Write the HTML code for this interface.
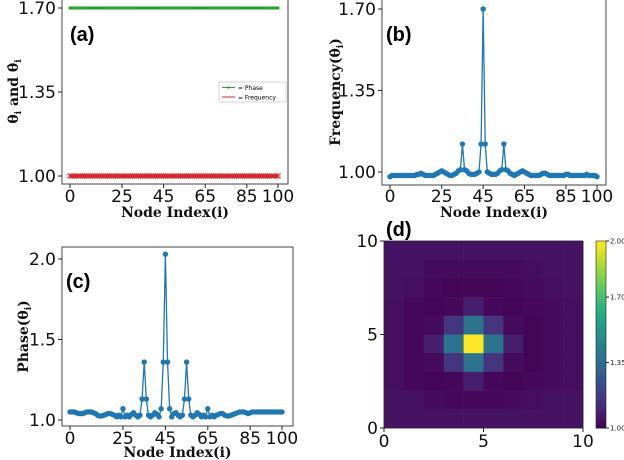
<!DOCTYPE html>
<html><head><meta charset="utf-8"><style>
body{margin:0;background:#fff;width:624px;height:460px;overflow:hidden}
svg{display:block}
.tk{font-family:"DejaVu Sans","Liberation Sans",sans-serif;font-size:17px;fill:#111}
.al{font-family:"DejaVu Serif","Liberation Serif",serif;font-weight:bold;font-size:14px;fill:#111}
.pl{font-family:"Liberation Sans",sans-serif;font-weight:bold;font-size:20px;fill:#000}
</style></head><body>
<svg id="fig" width="624" height="460" viewBox="0 0 624 460" xmlns="http://www.w3.org/2000/svg"></svg>
<script>
const nodeTicks=[0,25,45,65,85,100];
const aYTicks=[1.00,1.35,1.70];
const bYTicks=[1.00,1.35,1.70];
const cYTicks=[1.0,1.5,2.0];
const phaseConst=1.70;
const freqConst=1.00;
const freqValues=[0.98,0.985,0.985,0.985,0.985,0.985,0.985,0.985,0.985,0.985,
0.985,0.985,0.985,0.99,0.99,0.995,0.99,0.985,0.985,0.985,
0.985,0.985,0.99,0.995,1.0,1.005,1.0,0.995,0.99,0.985,
0.985,0.99,0.995,1.005,1.01,1.12,1.01,1.005,0.995,0.99,
0.99,0.99,0.995,1.0,1.12,1.70,1.12,1.0,0.995,0.99,
0.99,0.99,0.995,1.005,1.01,1.12,1.01,1.005,0.995,0.99,
0.985,0.99,0.995,1.0,1.005,1.0,0.995,0.99,0.985,0.985,
0.985,0.985,0.985,0.99,0.995,0.995,0.99,0.985,0.985,0.985,
0.985,0.985,0.985,0.985,0.985,0.99,0.99,0.985,0.985,0.985,
0.985,0.985,0.985,0.985,0.985,0.99,0.985,0.985,0.985,0.985,0.98];
const phaseValues=[1.05,1.05,1.05,1.045,1.04,1.04,1.04,1.045,1.05,1.05,
1.05,1.045,1.04,1.03,1.025,1.025,1.03,1.035,1.04,1.04,
1.035,1.03,1.02,1.03,1.02,1.07,1.02,1.03,1.02,1.035,
1.045,1.03,1.02,1.03,1.13,1.36,1.13,1.03,1.02,1.03,
1.045,1.035,1.02,1.07,1.36,2.03,1.36,1.07,1.02,1.04,
1.045,1.03,1.02,1.03,1.13,1.36,1.13,1.03,1.02,1.03,
1.045,1.035,1.02,1.03,1.02,1.07,1.02,1.03,1.02,1.03,
1.035,1.04,1.04,1.03,1.025,1.025,1.03,1.035,1.04,1.045,
1.05,1.05,1.05,1.045,1.04,1.045,1.05,1.05,1.05,1.05,
1.05,1.05,1.05,1.05,1.05,1.05,1.05,1.05,1.05,1.05,1.05];
const heatRows=[ // top row (y=9) to bottom (y=0)
[1.05,1.05,1.05,1.05,1.05,1.05,1.05,1.05,1.05,1.05],
[1.05,1.05,1.03,1.03,1.03,1.03,1.03,1.04,1.05,1.05],
[1.05,1.04,1.02,1.01,1.01,1.01,1.02,1.03,1.04,1.05],
[1.04,1.02,1.01,1.02,1.08,1.02,1.01,1.02,1.03,1.04],
[1.04,1.02,1.03,1.15,1.38,1.15,1.03,1.01,1.03,1.04],
[1.04,1.02,1.08,1.38,2.0,1.38,1.08,1.01,1.03,1.04],
[1.04,1.02,1.03,1.15,1.38,1.15,1.03,1.01,1.03,1.04],
[1.04,1.02,1.01,1.02,1.08,1.02,1.01,1.02,1.03,1.04],
[1.05,1.05,1.03,1.02,1.02,1.02,1.03,1.04,1.05,1.05],
[1.05,1.05,1.05,1.05,1.05,1.05,1.05,1.05,1.05,1.05]];
const heatTicks=[0,5,10];
const cbTicks=[1.00,1.35,1.70,2.00];

const NS="http://www.w3.org/2000/svg";
const svg=document.getElementById('fig');
function mk(tag,attrs,parent){const e=document.createElementNS(NS,tag);for(const k in attrs)e.setAttribute(k,attrs[k]);(parent||svg).appendChild(e);return e;}
function lin(d0,d1,r0,r1){return v=>r0+(v-d0)*(r1-r0)/(d1-d0);}
const VIR=[[68,1,84],[72,40,120],[62,74,137],[49,104,142],[38,130,142],[31,158,137],[53,183,121],[109,205,89],[180,222,44],[253,231,37]];
function viridis(t){t=Math.max(0,Math.min(1,t))*(VIR.length-1);const i=Math.min(Math.floor(t),VIR.length-2),f=t-i;const c=VIR[i].map((v,k)=>Math.round(v+(VIR[i+1][k]-v)*f));return `rgb(${c})`;}

function axesFrame(name,x0,y0,x1,y1,xs,ys,yTicks,yFmt,xTickY,xlabY,ylab,ylabX){
  const g=mk('g',{});
  
  
  const r=mk('rect',{x:x0,y:y0,width:x1-x0,height:y1-y0,fill:'none',stroke:'#444','stroke-width':1},g);
  
  
  nodeTicks.forEach(t=>{
    mk('line',{x1:xs(t),x2:xs(t),y1:y1,y2:y1+4,stroke:'#222'},g);
    const tx=mk('text',{x:xs(t),y:xTickY,'text-anchor':'middle',class:'tk'},g);tx.textContent=t;
    
    
  });
  yTicks.forEach(t=>{
    mk('line',{x1:x0-4,x2:x0,y1:ys(t),y2:ys(t),stroke:'#222'},g);
    const tx=mk('text',{x:x0-6,y:ys(t)+6,'text-anchor':'end',class:'tk'},g);tx.textContent=yFmt(t);
    
    
  });
  const xl=mk('text',{x:(x0+x1)/2,y:xlabY,'text-anchor':'middle',class:'al'},g);xl.textContent='Node Index(i)';
  
  
  const yc=(y0+y1)/2;
  const yl=mk('text',{x:ylabX,y:yc,'text-anchor':'middle',class:'al',transform:`rotate(-90 ${ylabX} ${yc})`},g);yl.innerHTML=ylab;
  
  
  return g;
}
function series(g,name,vals,xs,ys,color,marker){
  const pts=vals.map((v,i)=>[xs(i),ys(v)]);
  const p=mk('polyline',{points:pts.map(q=>q.join(',')).join(' '),fill:'none',stroke:color,'stroke-width':1.3},g);
  
  
  pts.forEach(q=>{
    let m;
    if(marker==='x'){m=mk('path',{d:`M${q[0]-2.5},${q[1]-2.5}L${q[0]+2.5},${q[1]+2.5}M${q[0]-2.5},${q[1]+2.5}L${q[0]+2.5},${q[1]-2.5}`,stroke:color,'stroke-width':1.2},g);}
    else m=mk('circle',{cx:q[0],cy:q[1],r:marker==='s'?1.6:2.7,fill:color},g);
    
    
  });
}
function label(txt,x,y){const t=mk('text',{x:x,y:y,class:'pl'});t.textContent=txt;
  
  }

// Panel a
{const xs=lin(0,100,70,278),ys=lin(1.0,1.7,176,8);
const g=axesFrame('panel-a',62,-1,288,184,xs,ys,aYTicks,v=>v.toFixed(2),202,217,'θ<tspan font-size="9" dy="3">i</tspan><tspan dy="-3"> and θ̇</tspan><tspan font-size="9" dy="3">i</tspan>',18);
series(g,'phase',nodeTicks.length?phaseValues.map(()=>phaseConst):[],xs,ys,'#2ca02c','s');
series(g,'frequency',freqValues.map(()=>freqConst),xs,ys,'#d62728','x');
const lg=mk('g',{},g);


mk('rect',{x:219,y:82,width:67,height:20,fill:'#fff',stroke:'#ccc','stroke-width':0.8},lg);
mk('line',{x1:222,x2:235,y1:87.5,y2:87.5,stroke:'#2ca02c'},lg);mk('circle',{cx:228.5,cy:87.5,r:1.2,fill:'#2ca02c'},lg);
mk('line',{x1:222,x2:235,y1:97,y2:97,stroke:'#d62728'},lg);
const t1=mk('text',{x:238,y:90,'font-size':6,'font-family':'DejaVu Sans,sans-serif'},lg);t1.textContent='= Phase';
const t2=mk('text',{x:238,y:99.5,'font-size':6,'font-family':'DejaVu Sans,sans-serif'},lg);t2.textContent='= Frequency';
label('(a)',70,41);}
// Panel b
{const xs=lin(0,100,390,597),ys=lin(1.0,1.7,172,9);
const g=axesFrame('panel-b',382,-1,606,185,xs,ys,bYTicks,v=>v.toFixed(2),202,217,'Frequency(θ̇<tspan font-size="9" dy="3">i</tspan><tspan dy="-3">)</tspan>',340);
series(g,'frequency',freqValues,xs,ys,'#1f77b4','o');
label('(b)',386,41);}
// Panel c
{const xs=lin(0,100,70,282),ys=lin(1.0,2.0,420,259);
const g=axesFrame('panel-c',62,247,293,426,xs,ys,cYTicks,v=>v.toFixed(1),444,457,'Phase(θ<tspan font-size="9" dy="3">i</tspan><tspan dy="-3">)</tspan>',28);
series(g,'phase',phaseValues,xs,ys,'#1f77b4','o');
label('(c)',66,288);}
// Panel d
{const g=mk('g',{});


const xs=lin(0,10,384,583),ys=lin(0,10,428,241),cs=lin(1,2,0,1);
heatRows.forEach((row,ri)=>row.forEach((v,ci)=>{
  const yv=9-ri;
  const c=mk('rect',{x:xs(ci),y:ys(yv+1),width:xs(ci+1)-xs(ci)+0.3,height:ys(yv)-ys(yv+1)+0.3,fill:viridis(cs(v))},g);
  
  
}));
mk('rect',{x:384,y:241,width:199,height:187,fill:'none',stroke:'#222','stroke-width':0.8},g);
heatTicks.forEach(t=>{
  mk('line',{x1:xs(t),x2:xs(t),y1:428,y2:432,stroke:'#222'},g);
  const a=mk('text',{x:xs(t),y:447,'text-anchor':'middle',class:'tk'},g);a.textContent=t;
  
  
  mk('line',{x1:380,x2:384,y1:ys(t),y2:ys(t),stroke:'#222'},g);
  const b=mk('text',{x:378,y:ys(t)+6,'text-anchor':'end',class:'tk'},g);b.textContent=t;
  
  
});
const cb=mk('g',{},g);


const cy=lin(1,2,428,241);
for(let i=0;i<60;i++){const v0=1+i/60,v1=1+(i+1)/60;
  mk('rect',{x:596,y:cy(v1),width:10,height:cy(v0)-cy(v1)+0.5,fill:viridis(cs((v0+v1)/2))},cb);}
mk('rect',{x:596,y:241,width:10,height:187,fill:'none',stroke:'#222','stroke-width':0.6},cb);
cbTicks.forEach(t=>{mk('line',{x1:606,x2:609,y1:cy(t),y2:cy(t),stroke:'#222'},cb);
  const a=mk('text',{x:610,y:cy(t)+2.5,'font-size':7,'font-family':'DejaVu Sans,sans-serif',fill:'#222'},cb);a.textContent=t.toFixed(2);
  
  });
label('(d)',386,236);}
</script>
</body></html>
